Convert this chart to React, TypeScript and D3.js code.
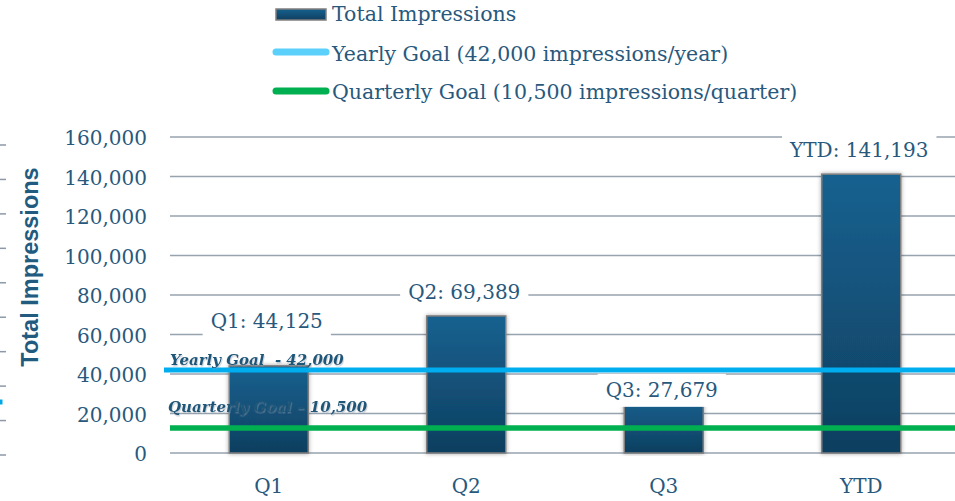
import React, { useEffect, useRef } from 'react';
import * as d3 from 'd3';

const categories = ['Q1', 'Q2', 'Q3', 'YTD'];
const impressions = [44125, 69389, 27679, 141193];
const yTicks = [0, 20000, 40000, 60000, 80000, 100000, 120000, 140000, 160000];
const yearlyGoal = 42000;
const quarterlyGoalLine = 12700;
const yearlyGoalLabel = 'Yearly Goal  - 42,000';
const quarterlyGoalLabel = 'Quarterly Goal \u2013 10,500';
const legendItems = [
  'Total Impressions',
  'Yearly Goal (42,000 impressions/year)',
  'Quarterly Goal (10,500 impressions/quarter)',
];
// layout: data-label baseline distance above bar top
const labelGaps = [38, 17, 1.5, 17];

const W = 955;
const H = 501;
const TEXT = '#28597d';
const SERIF = '"DejaVu Serif", serif';

export default function App() {
  const ref = useRef<SVGSVGElement>(null);

  useEffect(() => {
    const svg = d3.select(ref.current);
    svg.selectAll('*').remove();

    const defs = svg.append('defs');
    const grad = defs.append('linearGradient').attr('id', 'barGrad').attr('x1', 0).attr('y1', 0).attr('x2', 0).attr('y2', 1);
    grad.append('stop').attr('offset', '0%').attr('stop-color', '#166190');
    grad.append('stop').attr('offset', '100%').attr('stop-color', '#0f3f5f');
    const sh = defs.append('filter').attr('id', 'barShadow').attr('x', '-20%').attr('y', '-5%').attr('width', '140%').attr('height', '110%');
    sh.append('feDropShadow').attr('dx', 0).attr('dy', 0).attr('stdDeviation', 2.2).attr('flood-color', '#000').attr('flood-opacity', 0.35);
    const tsh = defs.append('filter').attr('id', 'txtShadow');
    tsh.append('feDropShadow').attr('dx', 0.8).attr('dy', 1.5).attr('stdDeviation', 0.7).attr('flood-color', '#8a9bab').attr('flood-opacity', 0.45);

    const y = d3.scaleLinear().domain([0, 160000]).range([453, 137]);
    const x = d3.scaleBand<string>().domain(categories).range([170, 960]).paddingInner(0.6).paddingOuter(0.3);

    // left-edge artifact ticks
    const leftScale = d3.scaleLinear().domain([0, 9]).range([455, 145]);
    svg.append('g').selectAll('line').data(d3.range(10)).join('line')
      .attr('x1', 0).attr('x2', 6)
      .attr('y1', (d) => leftScale(d)).attr('y2', (d) => leftScale(d))
      .attr('stroke', '#8d99a6').attr('stroke-width', 1.5);
    svg.append('line').attr('x1', 0).attr('x2', 2.5).attr('y1', 402).attr('y2', 402).attr('stroke', '#00a8e8').attr('stroke-width', 5);

    // gridlines
    svg.append('g').selectAll('line').data(yTicks).join('line')
      .attr('x1', 170).attr('x2', W)
      .attr('y1', (d) => y(d)).attr('y2', (d) => y(d))
      .attr('stroke', '#97a3af').attr('stroke-width', 1.5);

    // tick labels
    svg.append('g').selectAll('text').data(yTicks).join('text')
      .attr('x', 147).attr('y', (d) => y(d) + 8)
      .attr('text-anchor', 'end')
      .attr('font-family', SERIF).attr('font-size', 20).attr('fill', TEXT)
      .text((d) => d3.format(',')(d));

    // axis title
    svg.append('text')
      .attr('transform', 'translate(38,267) rotate(-90)')
      .attr('text-anchor', 'middle')
      .attr('font-family', '"Liberation Sans", Arial, sans-serif').attr('font-weight', 'bold')
      .attr('font-size', 23.5).attr('fill', '#215b80')
      .text('Total Impressions');

    // bars
    svg.append('g').selectAll('rect').data(impressions).join('rect')
      .attr('x', (_, i) => x(categories[i])!)
      .attr('width', x.bandwidth())
      .attr('y', (d) => y(d))
      .attr('height', (d) => y(0) - y(d))
      .attr('fill', 'url(#barGrad)')
      .attr('stroke', '#7f7f7f').attr('stroke-width', 1.5)
      .attr('filter', 'url(#barShadow)');

    // data labels with white boxes
    const lg = svg.append('g');
    impressions.forEach((v, i) => {
      const cx = x(categories[i])! + x.bandwidth() / 2 - 2;
      const by = y(v) - labelGaps[i];
      const g = lg.append('g');
      const rect = g.append('rect').attr('fill', '#fff');
      const t = g.append('text')
        .attr('x', cx).attr('y', by).attr('text-anchor', 'middle')
        .attr('font-family', SERIF).attr('font-size', 20).attr('fill', TEXT)
        .text(`${categories[i]}: ${d3.format(',')(v)}`);
      const w = (t.node() as SVGTextElement).getComputedTextLength();
      rect.attr('x', cx - w / 2 - 8).attr('width', w + 16).attr('y', by - 23).attr('height', 33);
    });

    // goal lines
    svg.append('line').attr('x1', 164).attr('x2', W).attr('y1', y(yearlyGoal)).attr('y2', y(yearlyGoal))
      .attr('stroke', '#00aeef').attr('stroke-width', 5);
    svg.append('line').attr('x1', 170).attr('x2', W).attr('y1', y(quarterlyGoalLine)).attr('y2', y(quarterlyGoalLine))
      .attr('stroke', '#00b050').attr('stroke-width', 5.5);

    // goal labels
    svg.append('text').attr('x', 170).attr('y', 365)
      .attr('font-family', SERIF).attr('font-weight', 'bold').attr('font-style', 'italic')
      .attr('font-size', 15).attr('fill', '#1f5678').attr('filter', 'url(#txtShadow)')
      .style('white-space', 'pre')
      .text(yearlyGoalLabel);
    svg.append('text').attr('x', 168).attr('y', 412)
      .attr('font-family', SERIF).attr('font-weight', 'bold').attr('font-style', 'italic')
      .attr('font-size', 15).attr('fill', '#1f5678').attr('filter', 'url(#txtShadow)')
      .text(quarterlyGoalLabel);

    // category labels
    svg.append('g').selectAll('text').data(categories).join('text')
      .attr('x', (d) => x(d)! + x.bandwidth() / 2).attr('y', 493)
      .attr('text-anchor', 'middle')
      .attr('font-family', SERIF).attr('font-size', 20).attr('fill', TEXT)
      .text((d) => d);

    // legend
    const leg = svg.append('g');
    leg.append('rect').attr('x', 276).attr('y', 9).attr('width', 50).attr('height', 11)
      .attr('fill', 'url(#barGrad)').attr('stroke', '#7f7f7f').attr('stroke-width', 1.5);
    leg.append('line').attr('x1', 276).attr('x2', 326).attr('y1', 52).attr('y2', 52)
      .attr('stroke', '#5bd0fb').attr('stroke-width', 7).attr('stroke-linecap', 'round');
    leg.append('line').attr('x1', 276).attr('x2', 326).attr('y1', 91).attr('y2', 91)
      .attr('stroke', '#00b050').attr('stroke-width', 7).attr('stroke-linecap', 'round');
    const legY = [21, 61, 99];
    leg.selectAll('text').data(legendItems).join('text')
      .attr('x', 332).attr('y', (_, i) => legY[i])
      .attr('font-family', SERIF).attr('font-size', 20.5).attr('fill', TEXT)
      .text((d) => d);
  }, []);

  return (
    <svg ref={ref} width={W} height={H} style={{ position: 'absolute', left: 0, top: 0, background: '#fff' }} />
  );
}
